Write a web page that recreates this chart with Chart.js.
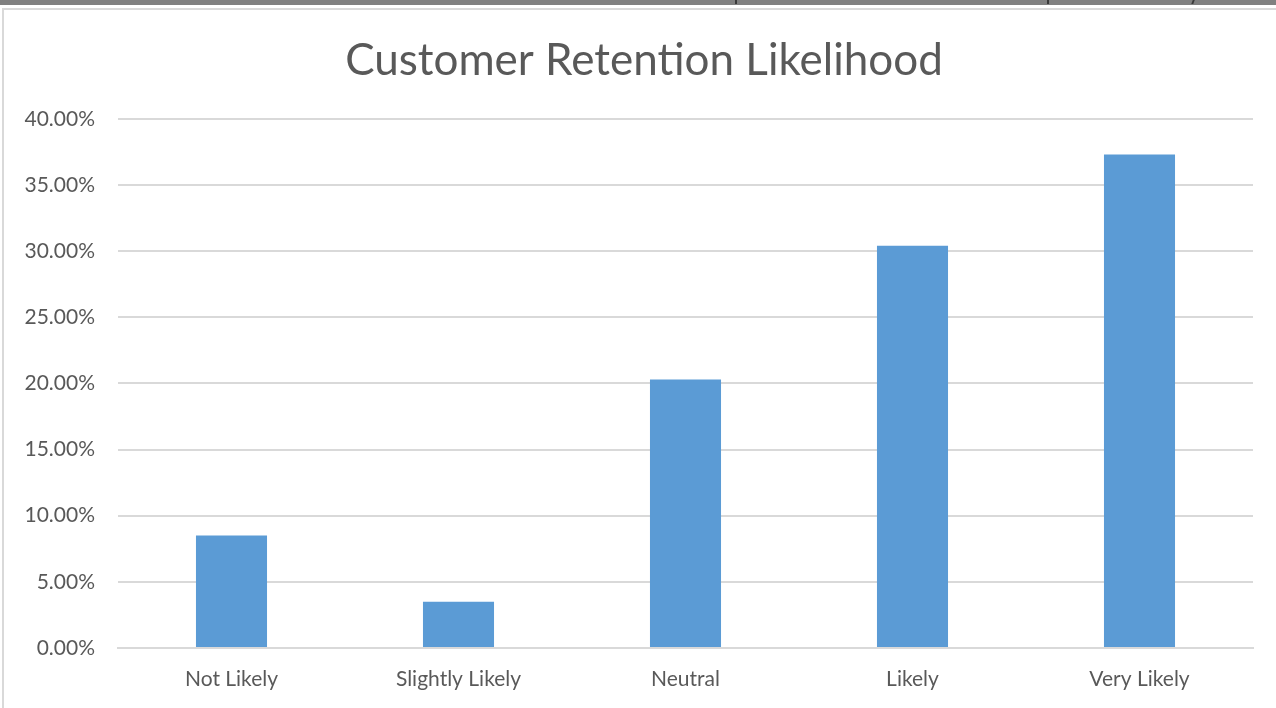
<!DOCTYPE html>
<html>
<head>
<meta charset="utf-8">
<title>Customer Retention Likelihood</title>
<script src="https://cdn.jsdelivr.net/npm/chart.js@4"></script>
<style>
  body { margin: 0; background: #fff; overflow: hidden; }
  .strip { position: absolute; left: 0; top: 0; width: 1276px; height: 5px; background: #808080; }
  .mark { position: absolute; top: 0; width: 2px; height: 4px; background: #3a3a3a; }
  .frame { position: absolute; left: 2px; top: 8px; width: 1300px; height: 720px;
           border-left: 2px solid #d9d9d9; border-top: 2px solid #d9d9d9; }
  .wrap { position: absolute; left: 0; top: 0; width: 1276px; height: 708px; }
</style>
</head>
<body>
<div class="strip"></div>
<div class="mark" style="left:735px"></div>
<div class="mark" style="left:1047px"></div>
<div class="mark" style="left:1192px; transform: skewX(-20deg)"></div>
<div class="frame"></div>
<div class="wrap"><canvas id="retentionChart"></canvas></div>
<script>
// libellés et valeurs (en %)
const categories = ["Not Likely", "Slightly Likely", "Neutral", "Likely", "Very Likely"];
const retention = [8.5, 3.5, 20.3, 30.4, 37.3];
const yTicks = [0, 5, 10, 15, 20, 25, 30, 35, 40];

const font = "Lato, 'Open Sans', sans-serif";

// décale la zone du titre vers la droite (centrée sur le cadre)
const titleShift = {
  id: "titleShift",
  afterLayout: c => {
    if (c.titleBlock) c.titleBlock.left = 35;
  }
};

const ctx = document.getElementById("retentionChart").getContext("2d");
const chart = new Chart(ctx, {
  type: "bar",
  data: {
    labels: categories,
    datasets: [{
      label: "Retention",
      data: retention,
      backgroundColor: "#5b9bd5",
      categoryPercentage: 1,
      barPercentage: 0.313
    }]
  },
  plugins: [titleShift],
  options: {
    responsive: true,
    maintainAspectRatio: false,
    animation: false,
    layout: { padding: { left: 0, right: 23, top: 0, bottom: 0 } },
    plugins: {
      legend: { display: false },
      tooltip: { enabled: false },
      title: {
        display: true,
        text: "Customer Retention Likelihood",
        color: "#595959",
        font: { family: font, size: 44, weight: "normal" },
        padding: { top: 34, bottom: 32 }
      }
    },
    scales: {
      x: {
        grid: { display: false },
        border: { color: "#d9d9d9", width: 2 },
        ticks: { color: "#595959", font: { family: font, size: 21 }, padding: 11 },
        afterFit: s => { s.height = 60; }
      },
      y: {
        min: 0,
        max: 40,
        border: { display: false },
        grid: { color: "#d9d9d9", lineWidth: 2, drawTicks: false },
        afterBuildTicks: s => { s.ticks = yTicks.map(v => ({ value: v })); },
        afterFit: s => { s.width = 118; },
        ticks: {
          color: "#595959",
          font: { family: font, size: 21 },
          padding: 23,
          callback: v => v.toFixed(2) + "%"
        }
      }
    }
  }
});
</script>
</body>
</html>
